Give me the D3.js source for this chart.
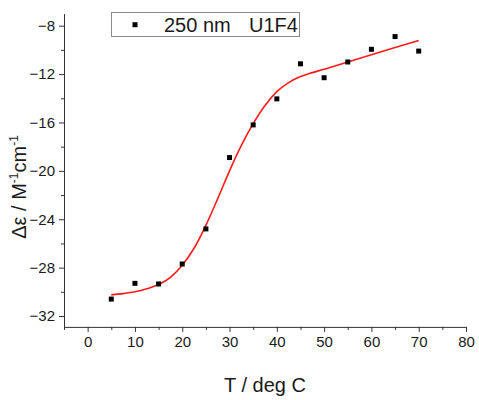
<!DOCTYPE html>
<html><head><meta charset="utf-8">
<script src="https://cdn.jsdelivr.net/npm/d3@7"></script>
<style>
body{margin:0;background:#fff;}
text{font-family:"Liberation Sans",Arial,sans-serif;fill:#1a1a1a;}
</style></head>
<body>
<svg id="c" width="479" height="400"></svg>
<script>
// Data points (T in deg C, delta epsilon)
const temps = [5,10,15,20,25,30,35,40,45,50,55,60,65,70];
const deltaEps = [-30.6,-29.3,-29.35,-27.7,-24.8,-18.9,-16.2,-14.05,-11.15,-12.3,-11.0,-9.95,-8.9,-10.1];
// Fit curve
const fitT = [5,7.5,10,12.5,15,17.5,20,22.5,25,27.5,30,32.5,35,37.5,40,42.5,45,47.5,50,55,60,65,70];
const fitY = [-30.25,-30.15,-30.0,-29.75,-29.4,-28.8,-27.8,-26.4,-24.5,-22.3,-20.0,-17.9,-16.1,-14.6,-13.45,-12.7,-12.2,-11.88,-11.6,-11.0,-10.4,-9.8,-9.22];
const xTicks = [0,10,20,30,40,50,60,70,80];
const xMinor = [-5,5,15,25,35,45,55,65,75];
const yTicks = [-8,-12,-16,-20,-24,-28,-32];
const yMinor = [-10,-14,-18,-22,-26,-30];
const legendLabel = "250 nm";
const legendLabel2 = "U1F4";

const svg = d3.select("#c");
const x = d3.scaleLinear().domain([-5,80]).range([64,466]);
const y = d3.scaleLinear().domain([-32.9,-7]).range([326.9,13.6]);
const axisColor = "#333";

// X axis
const gx = svg.append("g").attr("transform",`translate(0,${y.range()[0]})`);
gx.call(d3.axisBottom(x).tickValues(xTicks).tickSize(5).tickSizeOuter(0).tickPadding(4).tickFormat(d3.format("d")));
gx.append("g").call(d3.axisBottom(x).tickValues(xMinor).tickSize(3).tickFormat(""));
gx.selectAll("g g .domain").remove();
gx.selectAll("path.domain").attr("stroke",axisColor);
gx.selectAll("line").attr("stroke",axisColor);
gx.selectAll("text").style("font-size","15px").style("font-family","Liberation Sans, Arial, sans-serif").attr("fill","#1a1a1a");

// Y axis
const gy = svg.append("g").attr("transform",`translate(${x.range()[0]},0)`);
gy.call(d3.axisLeft(y).tickValues(yTicks).tickSize(5).tickSizeOuter(0).tickPadding(4).tickFormat(d3.format("d")));
gy.append("g").call(d3.axisLeft(y).tickValues(yMinor).tickSize(3).tickFormat(""));
gy.selectAll("g g .domain").remove();
gy.selectAll("path.domain").attr("stroke",axisColor);
gy.selectAll("line").attr("stroke",axisColor);
gy.selectAll("text").style("font-size","15px").style("font-family","Liberation Sans, Arial, sans-serif").attr("fill","#1a1a1a");

// Fit curve
const line = d3.line().x((d,i)=>x(fitT[i])).y(d=>y(d)).curve(d3.curveMonotoneX);
svg.append("path").attr("d",line(fitY)).attr("fill","none").attr("stroke","#ff1a1a").attr("stroke-width",1.6);

// Points
const s = 5;
svg.append("g").selectAll("rect").data(deltaEps).join("rect")
  .attr("x",(d,i)=>x(temps[i])-s/2).attr("y",d=>y(d)-s/2)
  .attr("width",s).attr("height",s).attr("fill","#000");

// Legend
svg.append("rect").attr("x",111.5).attr("y",12.5).attr("width",188).attr("height",24)
  .attr("fill","#fff").attr("stroke","#8a8a8a").attr("stroke-width",1);
svg.append("rect").attr("x",135-s/2).attr("y",24.7-s/2).attr("width",s).attr("height",s).attr("fill","#000");
svg.append("text").attr("x",164).attr("y",31.5).style("font-size","20px").text(legendLabel);
svg.append("text").attr("x",249).attr("y",31.5).style("font-size","20px").text(legendLabel2);

// Axis titles
svg.append("text").attr("x",265).attr("y",392).attr("text-anchor","middle").style("font-size","20px").text("T / deg C");
const yt = svg.append("text").attr("transform","translate(26,187) rotate(-90)").attr("text-anchor","middle").style("font-size","20px");
yt.append("tspan").text("Δε / M");
yt.append("tspan").attr("dy",-8).style("font-size","12px").text("-1");
yt.append("tspan").attr("dy",8).text("cm");
yt.append("tspan").attr("dy",-8).style("font-size","12px").text("-1");
</script>
</body></html>
